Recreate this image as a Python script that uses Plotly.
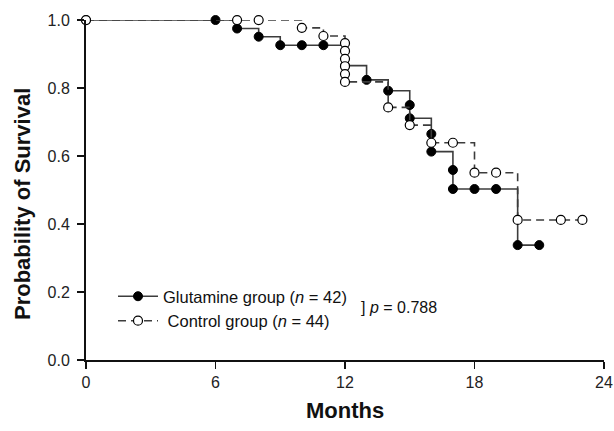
import plotly.graph_objects as go

# Kaplan-Meier survival data
months_glut = [0, 6, 7, 8, 9, 10, 11, 12, 13, 14, 15, 15, 16, 16, 17, 17, 18, 19, 20, 21]
surv_glut = [1.0, 1.0, 0.975, 0.951, 0.926, 0.926, 0.926, 0.866, 0.824, 0.792,
             0.750, 0.711, 0.665, 0.613, 0.559, 0.503, 0.503, 0.503, 0.338, 0.338]

months_ctrl = [0, 7, 8, 10, 11, 12, 12, 12, 12, 12, 12, 14, 15, 16, 17, 18, 19, 20, 22, 23]
surv_ctrl = [1.0, 1.0, 1.0, 0.977, 0.953, 0.932, 0.909, 0.886, 0.864, 0.841, 0.818,
             0.743, 0.691, 0.639, 0.639, 0.551, 0.551, 0.412, 0.412, 0.412]

x_ticks = [0, 6, 12, 18, 24]
y_ticks = [0.0, 0.2, 0.4, 0.6, 0.8, 1.0]
y_tick_labels = ["0.0", "0.2", "0.4", "0.6", "0.8", "1.0"]

FONT = "Liberation Sans, Arial, sans-serif"

W, H = 614, 431
PL, PR, PT, PB = 86, 604, 20, 360  # plot area in page pixels
L, R, T, B = PL, W - PR, PT, H - PB
PW = PR - PL
PH = PB - PT


def px_x(p):
    return (p - PL) / PW


def px_y(p):
    return (PB - p) / PH


fig = go.Figure()
fig.add_trace(go.Scatter(
    x=months_glut, y=surv_glut, mode="lines+markers", line_shape="hv",
    name="Glutamine group (<i>n</i> = 42)",
    line=dict(color="#3c3c3c", width=1.6),
    marker=dict(symbol="circle", size=9, color="black", line=dict(color="black", width=1)),
    cliponaxis=False,
))
fig.add_trace(go.Scatter(
    x=months_ctrl, y=surv_ctrl, mode="lines+markers", line_shape="hv",
    name="&nbsp;Control group (<i>n</i> = 44)",
    line=dict(color="#3c3c3c", width=1.6, dash="8px,5px"),
    marker=dict(symbol="circle", size=9, color="white", line=dict(color="black", width=1.2)),
    cliponaxis=False,
))

fig.add_annotation(
    xref="paper", yref="paper", x=px_x(359), y=px_y(307),
    xanchor="left", yanchor="middle", showarrow=False,
    text="] <i>p</i> = 0.788", font=dict(family=FONT, size=16, color="#111"),
)
fig.add_annotation(
    xref="paper", yref="paper", x=px_x(22), y=px_y(204),
    xanchor="center", yanchor="middle", showarrow=False, textangle=-90,
    text="<b>Probability of Survival</b>", font=dict(family=FONT, size=22, color="#111"),
)
fig.add_annotation(
    xref="paper", yref="paper", x=px_x(345), y=px_y(410),
    xanchor="center", yanchor="middle", showarrow=False,
    text="<b>Months</b>", font=dict(family=FONT, size=22, color="#111"),
)

axis_common = dict(
    showline=True, linecolor="#111", linewidth=2, ticks="outside", ticklen=7,
    tickwidth=1.5, tickcolor="#111", showgrid=False, zeroline=False, automargin=False,
    tickfont=dict(family=FONT, size=16, color="#222"),
)
fig.update_xaxes(range=[0, 24.0001], tickvals=x_ticks, ticktext=[str(v) for v in x_ticks], **axis_common)
fig.update_yaxes(range=[0, 1.0001], tickvals=y_ticks, ticktext=y_tick_labels,
                 ticklabelstandoff=4, **axis_common)

fig.update_layout(
    template="none",
    width=W, height=H, autosize=False,
    margin=dict(l=L, r=R, t=T, b=B),
    paper_bgcolor="white", plot_bgcolor="white",
    font=dict(family=FONT, size=16, color="#111"),
    showlegend=True,
    legend=dict(x=px_x(113), y=px_y(279), xanchor="left", yanchor="top",
                bgcolor="rgba(0,0,0,0)", font=dict(family=FONT, size=16.5, color="#111"),
                itemwidth=40, tracegroupgap=0),
)

fig.write_html(
    "out.html",
    config={"displayModeBar": False, "staticPlot": True},
    post_script="document.body.style.margin='0';document.body.style.overflow='hidden';",
)
